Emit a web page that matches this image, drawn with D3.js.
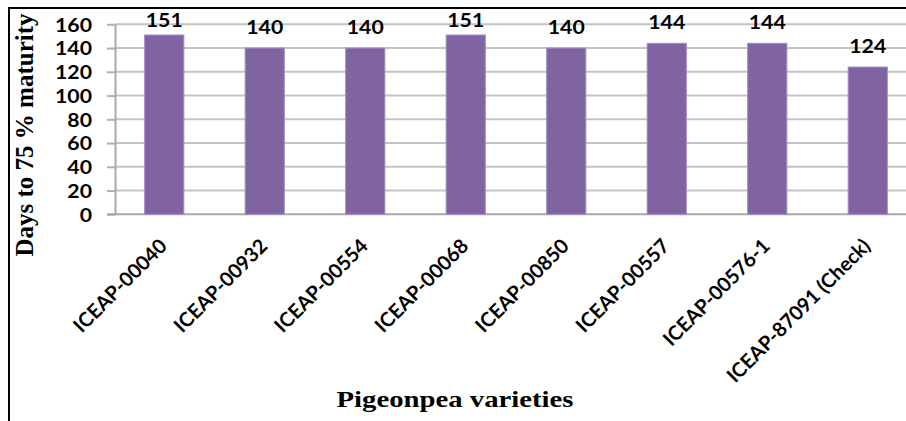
<!DOCTYPE html>
<html><head><meta charset="utf-8">
<script src="https://cdn.jsdelivr.net/npm/d3@7"></script>
<style>body{margin:0;background:#fff} svg{display:block}</style>
</head><body><svg id="c" width="906" height="421"></svg>
<script>
const categories = ["ICEAP-00040","ICEAP-00932","ICEAP-00554","ICEAP-00068","ICEAP-00850","ICEAP-00557","ICEAP-00576-1","ICEAP-87091 (Check)"];
const days = [151,140,140,151,140,144,144,124];
const yTicks = [0,20,40,60,80,100,120,140,160];
const yTitle = "Days to 75 % maturity";
const xTitle = "Pigeonpea varieties";

const W=906,H=421;
const svg=d3.select("#c");
const x0=115, yBase=214.3, yTop=24.3;
const y=d3.scaleLinear().domain([0,160]).range([yBase,yTop]);
const x=d3.scaleBand().domain(categories).range([114,918]);
const barW = x.step()*0.39;
const cx = d => x(d)+x.bandwidth()/2;
const sans = "Lato, 'Open Sans', sans-serif";
const serif = "'Liberation Serif','Times New Roman',serif";

// gridlines
svg.append("g").selectAll("line").data(yTicks.filter(d=>d>0)).join("line")
  .attr("x1",x0).attr("x2",W).attr("y1",d=>y(d)).attr("y2",d=>y(d))
  .attr("stroke","#c3c3c3").attr("stroke-width",2);

// y axis with ticks
const ya = svg.append("g").attr("transform",`translate(${x0},0)`)
  .call(d3.axisLeft(y).tickValues(yTicks).tickSize(8).tickSizeOuter(0));
ya.select(".domain").attr("stroke","#a8a8a8").attr("stroke-width",2);
ya.selectAll(".tick line").attr("stroke","#b0b0b0").attr("stroke-width",2);
ya.selectAll(".tick text").attr("x",-23/1.12).attr("transform","scale(1.12,1)")
  .attr("dy","0.36em").style("font-family",sans).style("font-weight","700")
  .style("font-size","19px").attr("fill","#000");

// x axis line
svg.append("line").attr("x1",107).attr("x2",W).attr("y1",yBase).attr("y2",yBase)
  .attr("stroke","#a8a8a8").attr("stroke-width",2);

// bars
svg.append("g").selectAll("rect").data(categories).join("rect")
  .attr("x",d=>cx(d)-barW/2).attr("width",barW)
  .attr("y",(d,i)=>y(days[i])).attr("height",(d,i)=>yBase-y(days[i]))
  .attr("fill","#8064a2").attr("stroke","#a08fc2").attr("stroke-width",1);

// value labels
svg.append("g").selectAll("text").data(categories).join("text")
  .attr("transform",(d,i)=>`translate(${cx(d)},${Math.max(y(days[i])-14,27)}) scale(1.12,1)`)
  .attr("text-anchor","middle").style("font-family",sans).style("font-weight","700")
  .style("font-size","19px").attr("fill","#000").text((d,i)=>days[i]);

// category labels
svg.append("g").selectAll("text").data(categories).join("text")
  .attr("transform",d=>`translate(${cx(d)+4},${yBase+33}) rotate(-45)`)
  .attr("text-anchor","end").style("font-family",sans).style("font-weight","700")
  .style("font-size","20px").attr("fill","#000").text(d=>d);

// titles
svg.append("text").attr("transform","translate(33,135) rotate(-90)")
  .attr("text-anchor","middle").style("font-family",serif).style("font-weight","700")
  .style("font-size","25px").attr("fill","#000").text(yTitle);
svg.append("text").attr("transform","translate(455,407) scale(1.25,1)")
  .attr("text-anchor","middle").style("font-family",serif).style("font-weight","700")
  .style("font-size","23px").attr("fill","#000").text(xTitle);

// frame
svg.append("line").attr("x1",8).attr("x2",W).attr("y1",8).attr("y2",8).attr("stroke","#000").attr("stroke-width",2);
svg.append("line").attr("x1",9).attr("x2",9).attr("y1",7).attr("y2",H).attr("stroke","#000").attr("stroke-width",2);
</script></body></html>
